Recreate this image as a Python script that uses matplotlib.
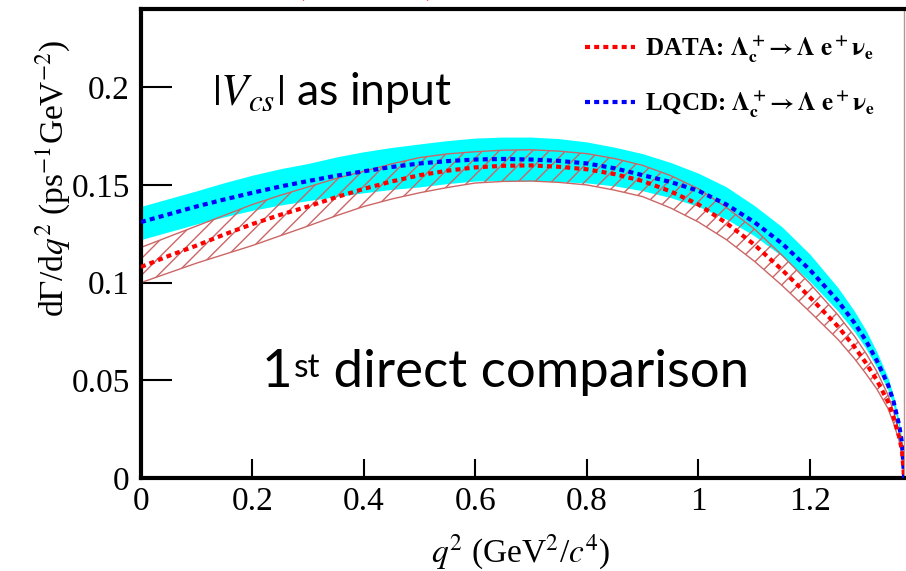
import matplotlib
matplotlib.use('Agg')
import matplotlib.pyplot as plt

# q^2 points (GeV^2/c^4)
q2 = [0.0, 0.05, 0.1, 0.15, 0.2, 0.25, 0.3, 0.35, 0.4, 0.45, 0.5, 0.55, 0.6, 0.65,
      0.7, 0.75, 0.8, 0.85, 0.9, 0.95, 1.0, 1.05, 1.1, 1.15, 1.2, 1.25, 1.28, 1.3,
      1.32, 1.34, 1.35, 1.36, 1.365, 1.369]

# DATA: Lambda_c+ -> Lambda e+ nu_e  (central + band)
data_mid = [0.108, 0.1137, 0.119, 0.1247, 0.130, 0.1347, 0.139, 0.1437, 0.148, 0.1518,
            0.155, 0.1573, 0.159, 0.1598, 0.160, 0.1593, 0.158, 0.1555, 0.152, 0.1467,
            0.140, 0.1305, 0.1195, 0.1065, 0.0925, 0.0776, 0.067, 0.059, 0.050, 0.039,
            0.031, 0.021, 0.014, 0.0]
data_lo = [0.100, 0.105, 0.110, 0.1145, 0.119, 0.124, 0.129, 0.1342, 0.139, 0.1428,
           0.146, 0.1487, 0.151, 0.1518, 0.152, 0.1513, 0.150, 0.1473, 0.144, 0.1382,
           0.131, 0.122, 0.111, 0.0985, 0.085, 0.071, 0.061, 0.0535, 0.0455, 0.0355,
           0.028, 0.019, 0.0125, 0.0]
data_hi = [0.118, 0.1235, 0.129, 0.1345, 0.140, 0.1447, 0.149, 0.1533, 0.157, 0.1608,
           0.164, 0.1659, 0.167, 0.1678, 0.168, 0.1673, 0.166, 0.1635, 0.160, 0.1548,
           0.148, 0.1385, 0.1275, 0.114, 0.0995, 0.0835, 0.0725, 0.064, 0.0545, 0.0425,
           0.034, 0.023, 0.0155, 0.0]

# LQCD prediction (central + band)
lqcd_mid = [0.131, 0.135, 0.139, 0.1426, 0.146, 0.1492, 0.152, 0.1547, 0.157, 0.1592,
            0.161, 0.1622, 0.163, 0.1633, 0.163, 0.1623, 0.161, 0.1585, 0.155, 0.1515,
            0.147, 0.140, 0.131, 0.120, 0.1065, 0.0907, 0.0793, 0.0705, 0.060, 0.0477,
            0.039, 0.027, 0.018, 0.0]
lqcd_lo = [0.122, 0.126, 0.130, 0.1337, 0.137, 0.1397, 0.142, 0.144, 0.146, 0.1477,
           0.149, 0.1507, 0.152, 0.1523, 0.152, 0.1517, 0.151, 0.1495, 0.147, 0.1435,
           0.139, 0.1325, 0.124, 0.1135, 0.1005, 0.0855, 0.0748, 0.0665, 0.0565, 0.045,
           0.0367, 0.0254, 0.017, 0.0]
lqcd_hi = [0.139, 0.143, 0.147, 0.1512, 0.155, 0.1583, 0.161, 0.1643, 0.167, 0.1692,
           0.171, 0.1727, 0.174, 0.1745, 0.1745, 0.1737, 0.172, 0.1693, 0.166, 0.1615,
           0.156, 0.149, 0.1395, 0.1285, 0.1145, 0.0975, 0.0853, 0.0758, 0.0645, 0.0513,
           0.042, 0.029, 0.0195, 0.0]

xticks = [0, 0.2, 0.4, 0.6, 0.8, 1.0, 1.2]
xtick_labels = ['0', '0.2', '0.4', '0.6', '0.8', '1', '1.2']
yticks = [0, 0.05, 0.1, 0.15, 0.2]
ytick_labels = ['0', '0.05', '0.1', '0.15', '0.2']

plt.rcParams['font.family'] = ['Liberation Serif', 'DejaVu Serif']
plt.rcParams['mathtext.fontset'] = 'stix'
plt.rcParams['hatch.linewidth'] = 1.0

fig = plt.figure(figsize=(9.06, 5.71), dpi=100)
ax = fig.add_axes([0.1556, 0.163, 0.8424, 0.821])

# bands
ax.fill_between(q2, lqcd_lo, lqcd_hi, color='#00ffff', linewidth=0, zorder=1)
ax.fill_between(q2, data_lo, data_hi, facecolor='none', edgecolor='#cc6666',
                hatch='//', linewidth=1.0, zorder=2)

# central curves
dots = (0, (1.2, 1.0))
ax.plot(q2, data_mid, color='#ff0000', lw=3, ls=dots, zorder=4,
        label=r'DATA: $\mathbf{\Lambda_c^+\!\rightarrow\Lambda\ e^+\nu_e}$')
ax.plot(q2, lqcd_mid, color='#0000ff', lw=3, ls=dots, zorder=3,
        label=r'LQCD: $\mathbf{\Lambda_c^+\!\rightarrow\Lambda\ e^+\nu_e}$')

ax.set_xlim(0, 1.369)
ax.set_ylim(0, 0.24)
ax.set_xticks(xticks)
ax.set_xticklabels(xtick_labels)
ax.set_yticks(yticks)
ax.set_yticklabels(ytick_labels)
ax.tick_params(axis='x', direction='in', length=14, width=1.5, labelsize=24, pad=6)
ax.tick_params(axis='y', direction='in', length=22, width=1.5, labelsize=24, pad=8)

for side in ['left', 'top', 'bottom']:
    ax.spines[side].set_linewidth(3)
ax.spines['right'].set_color('#c09090')
ax.spines['right'].set_linewidth(1)

ax.set_xlabel(r'$q^2$ (GeV$^2$/$c^4$)', fontsize=24)
ax.xaxis.set_label_coords(0.497, -0.117)
ax.set_ylabel(r'd$\Gamma$/d$q^2$ (ps$^{-1}$GeV$^{-2}$)', fontsize=24)
ax.yaxis.set_label_coords(-0.09, 0.64)

leg = ax.legend(loc='upper left', bbox_to_anchor=(0.552, 0.995), frameon=False,
                prop={'family': 'Liberation Serif', 'weight': 'bold', 'size': 18},
                handlelength=2.0, handletextpad=0.4, labelspacing=1.0)

# slide annotations
ax.text(0.127, 0.191, r'$|V_{cs}|$ as input', family='Lato', fontsize=32,
        va='baseline', ha='left')
one = ax.text(0.2165, 0.042, '1', family='Lato', fontsize=38,
              va='bottom', ha='left')
st = ax.annotate('st', xy=(1, 1), xycoords=one, xytext=(1, -3),
                 textcoords='offset points', family='Lato', fontsize=24,
                 va='top', ha='left')
ax.annotate(' direct comparison', xy=(1, 0), xycoords=(st, one),
            family='Lato', fontsize=38, va='bottom', ha='left')

# cut-off red bracket text at the very top of the slide
fig.text(0.328, 1.006, '(              )', color='red', family='Lato',
         fontsize=24, va='baseline', ha='left')

fig.savefig('out.png', dpi=100)
